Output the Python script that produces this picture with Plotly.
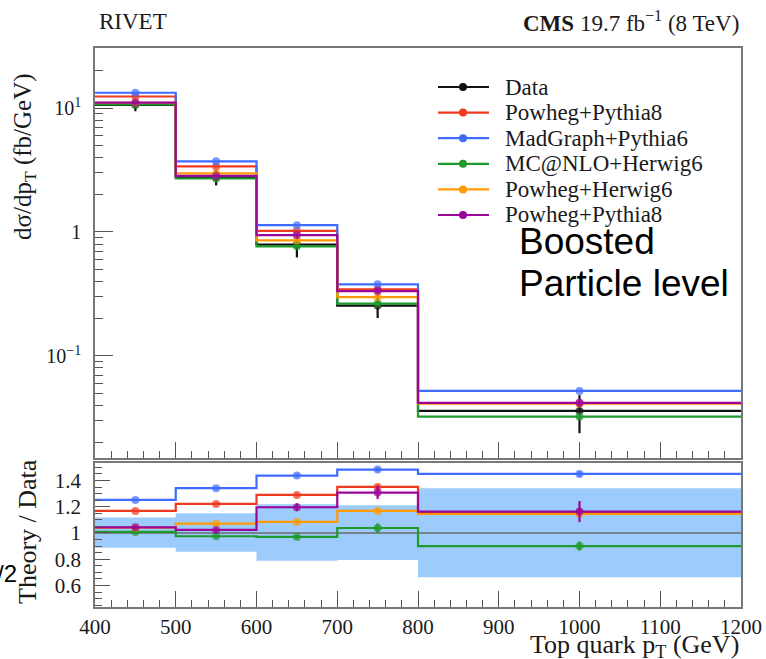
import plotly.graph_objects as go

# ---------------- data ----------------
bin_edges = [400, 500, 600, 700, 800, 1200]
bin_centers = [450, 550, 650, 750, 1000]

data_vals = [10.6, 2.77, 0.79, 0.255, 0.036]
data_unc_up = [0.117, 0.150, 0.219, 0.211, 0.341]     # relative
data_unc_dn = [0.112, 0.143, 0.211, 0.206, 0.338]     # relative

series_names = ["Powheg+Pythia8", "MadGraph+Pythia6", "MC@NLO+Herwig6",
                "Powheg+Herwig6", "Powheg+Pythia8"]
series_colors = ["#EE3A1E", "#3F6CFF", "#1F9A2C", "#FF9A05", "#9A059A"]

ratio_powheg_pythia8 = [1.168, 1.221, 1.290, 1.351, 1.155]
ratio_madgraph_pythia6 = [1.252, 1.341, 1.437, 1.483, 1.450]
ratio_mcatnlo_herwig6 = [1.008, 0.975, 0.970, 1.038, 0.900]
ratio_powheg_herwig6 = [1.040, 1.071, 1.084, 1.168, 1.145]
ratio_powheg_pythia8_b = [1.043, 1.023, 1.196, 1.308, 1.163]

rerr_powheg_pythia8 = [0.008, 0.010, 0.012, 0.020, 0.020]
rerr_madgraph_pythia6 = [0.008, 0.010, 0.012, 0.015, 0.020]
rerr_mcatnlo_herwig6 = [0.010, 0.012, 0.015, 0.035, 0.035]
rerr_powheg_herwig6 = [0.008, 0.010, 0.012, 0.015, 0.020]
rerr_powheg_pythia8_b = [0.012, 0.015, 0.030, 0.050, 0.080]

series_ratios = [ratio_powheg_pythia8, ratio_madgraph_pythia6, ratio_mcatnlo_herwig6,
                 ratio_powheg_herwig6, ratio_powheg_pythia8_b]
series_rerrs = [rerr_powheg_pythia8, rerr_madgraph_pythia6, rerr_mcatnlo_herwig6,
                rerr_powheg_herwig6, rerr_powheg_pythia8_b]

x_tick_vals = [400, 500, 600, 700, 800, 900, 1000, 1100, 1200]
y_main_tick_vals = [0.1, 1, 10]
y_main_tick_text = ["10<sup>−1</sup>", "1", "10<sup>1</sup>"]
y_ratio_tick_vals = [0.6, 0.8, 1.0, 1.2, 1.4]
y_ratio_tick_text = ["0.6", "0.8", "1", "1.2", "1.4"]

# ---------------- layout geometry (pixels) ----------------
W, H = 766, 659
L, R, T, B = 95, 741, 48, 607
MAIN_BOTTOM, RATIO_TOP = 458, 463


def px(x):
    return (x - L) / (R - L)


def py(y):
    return (B - y) / (B - T)


SERIF = "Liberation Serif"
SANS = "Liberation Sans"
TXT = "#1a1a1a"
AXC = "#777777"


def step_arrays(vals, errs_up=None, errs_dn=None):
    xs, ys, sz, eu, ed = [], [], [], [], []
    for i, v in enumerate(vals):
        xs += [bin_edges[i], bin_centers[i]]
        ys += [v, v]
        sz += [0, 8]
        eu += [0, errs_up[i] if errs_up else 0]
        ed += [0, errs_dn[i] if errs_dn else 0]
    xs.append(bin_edges[-1]); ys.append(vals[-1]); sz.append(0); eu.append(0); ed.append(0)
    return xs, ys, sz, eu, ed


fig = go.Figure()

# ---- ratio band (data uncertainty) ----
band_lo = [1 - d for d in data_unc_dn]
band_hi = [1 + u for u in data_unc_up]
fig.add_trace(go.Scatter(x=bin_edges, y=band_lo + [band_lo[-1]],
                         mode="lines", line=dict(width=0, shape="hv"),
                         xaxis="x2", yaxis="y2", showlegend=False, hoverinfo="skip"))
fig.add_trace(go.Scatter(x=bin_edges, y=band_hi + [band_hi[-1]],
                         mode="lines", line=dict(width=0, shape="hv"), fill="tonexty",
                         fillcolor="#9DCBFB",
                         xaxis="x2", yaxis="y2", showlegend=False, hoverinfo="skip"))

# ---- data ----
d_up = [v * u for v, u in zip(data_vals, data_unc_up)]
d_dn = [v * d for v, d in zip(data_vals, data_unc_dn)]
xs, ys, sz, eu, ed = step_arrays(data_vals, d_up, d_dn)
fig.add_trace(go.Scatter(x=xs, y=ys, mode="lines+markers", name="Data",
                         line=dict(color="#111111", width=2.2, shape="hv"),
                         marker=dict(size=sz, color="#111111", line=dict(width=0)),
                         error_y=dict(type="data", array=eu, arrayminus=ed, symmetric=False,
                                      color="#111111", thickness=2.2, width=0),
                         showlegend=False))
data_ratio = [v / v for v in data_vals]
xs, ys, sz, eu, ed = step_arrays(data_ratio)
fig.add_trace(go.Scatter(x=xs, y=ys, mode="lines", line=dict(color="#6a6a6a", width=1.5, shape="hv"),
                         xaxis="x2", yaxis="y2", showlegend=False))

# ---- MC series ----
for name, col, rat, rerr in zip(series_names, series_colors, series_ratios, series_rerrs):
    vals = [d * r for d, r in zip(data_vals, rat)]
    errs = [d * e for d, e in zip(data_vals, rerr)]
    xs, ys, sz, eu, ed = step_arrays(vals, errs, errs)
    fig.add_trace(go.Scatter(x=xs, y=ys, mode="lines+markers", name=name,
                             line=dict(color=col, width=2.2, shape="hv"),
                             marker=dict(size=sz, color=col, line=dict(width=0)),
                             error_y=dict(type="data", array=eu, arrayminus=ed, symmetric=False,
                                          color=col, thickness=2.2, width=0),
                             showlegend=False))
    xs, ys, sz, eu, ed = step_arrays(rat, rerr, rerr)
    fig.add_trace(go.Scatter(x=xs, y=ys, mode="lines+markers", name=name,
                             line=dict(color=col, width=2.2, shape="hv"),
                             marker=dict(size=sz, color=col, line=dict(width=0)),
                             error_y=dict(type="data", array=eu, arrayminus=ed, symmetric=False,
                                          color=col, thickness=2.2, width=0),
                             xaxis="x2", yaxis="y2", showlegend=False))

# ---------------- axes ----------------
common_x = dict(range=[400, 1200], showline=True, mirror=True, linecolor=AXC, linewidth=1.5,
                ticks="inside", ticklen=16, tickcolor="#555", tickwidth=1.2,
                tickvals=x_tick_vals, showgrid=False, zeroline=False, automargin=False,
                minor=dict(ticks="inside", ticklen=7, dtick=20, tick0=400, tickcolor="#555",
                           showgrid=False))
main_minor = [m * 10 ** e for e in (-2, -1, 0) for m in range(2, 10)] + [20]
main_minor = [v for v in main_minor if v > 0.015]

fig.update_layout(
    width=W, height=H, autosize=False,
    margin=dict(l=L, r=W - R, t=T, b=H - B, pad=0),
    paper_bgcolor="white", plot_bgcolor="white",
    showlegend=False,
    font=dict(family=SERIF, size=22, color=TXT),
    xaxis=dict(domain=[0, 1], anchor="y", showticklabels=False, **common_x),
    yaxis=dict(domain=[py(MAIN_BOTTOM), 1], type="log", range=[-1.823, 1.484],
               showline=True, mirror=True, linecolor=AXC, linewidth=1.5,
               ticks="inside", ticklen=18, tickcolor="#555", tickwidth=1.2,
               tickmode="array", tickvals=y_main_tick_vals, ticktext=y_main_tick_text,
               ticklabelstandoff=8, tickfont=dict(size=20), automargin=False,
               showgrid=False, zeroline=False,
               minor=dict(ticks="inside", ticklen=8, tickmode="array", tickvals=main_minor,
                          tickcolor="#555", showgrid=False)),
    xaxis2=dict(domain=[0, 1], anchor="y2", tickfont=dict(size=21), ticklabelstandoff=0,
                **common_x),
    yaxis2=dict(domain=[0, py(RATIO_TOP)], range=[0.436, 1.533],
                showline=True, mirror=True, linecolor=AXC, linewidth=1.5,
                ticks="inside", ticklen=15, tickcolor="#555", tickwidth=1.2,
                tickmode="array", tickvals=y_ratio_tick_vals, ticktext=y_ratio_tick_text,
                ticklabelstandoff=8, tickfont=dict(size=21), automargin=False,
                showgrid=False, zeroline=False,
                minor=dict(ticks="inside", ticklen=7, dtick=0.05, tick0=0.4,
                           tickcolor="#555", showgrid=False)),
)

# ---------------- texts ----------------
ann = []
ann.append(dict(text="RIVET", x=px(97), y=py(22), xanchor="left", yanchor="middle",
                font=dict(family=SERIF, size=23, color=TXT)))
ann.append(dict(text="<b>CMS</b> 19.7 fb<sup>−1</sup> (8 TeV)", x=px(741), y=py(22),
                xanchor="right", yanchor="middle", font=dict(family=SERIF, size=23, color=TXT)))
ann.append(dict(text="dσ/dp<sub>T</sub> (fb/GeV)", x=px(25), y=py(157), textangle=-90,
                xanchor="center", yanchor="middle", font=dict(family=SERIF, size=25, color=TXT)))
ann.append(dict(text="Theory / Data", x=px(27), y=py(532), textangle=-90,
                xanchor="center", yanchor="middle", font=dict(family=SERIF, size=26, color=TXT)))
ann.append(dict(text="Top quark p<sub>T</sub> (GeV)", x=px(741), y=py(646),
                xanchor="right", yanchor="middle", font=dict(family=SERIF, size=26, color=TXT)))
ann.append(dict(text="Boosted", x=px(517), y=py(241), xanchor="left", yanchor="middle",
                font=dict(family=SANS, size=37, color="black")))
ann.append(dict(text="Particle level", x=px(517), y=py(283), xanchor="left", yanchor="middle",
                font=dict(family=SANS, size=37, color="black")))
ann.append(dict(text="/2", x=px(19), y=py(573), xanchor="right", yanchor="middle",
                font=dict(family=SANS, size=24, color="black")))

# manual legend
legend_names = ["Data"] + series_names
legend_colors = ["#111111"] + series_colors
shapes = []
for i, (nm, col) in enumerate(zip(legend_names, legend_colors)):
    yy = 87 + i * 25.6
    shapes.append(dict(type="line", xref="paper", yref="paper", x0=px(438), x1=px(489),
                       y0=py(yy), y1=py(yy), line=dict(color=col, width=2.2)))
    shapes.append(dict(type="circle", xref="paper", yref="paper", x0=px(459), x1=px(467),
                       y0=py(yy + 4), y1=py(yy - 4), fillcolor=col, line=dict(width=0)))
    ann.append(dict(text=nm, x=px(503), y=py(yy), xanchor="left", yanchor="middle",
                    font=dict(family=SERIF, size=23, color=TXT)))

for a in ann:
    a.update(xref="paper", yref="paper", showarrow=False)
fig.update_layout(annotations=ann, shapes=shapes)

fig.write_html("out.html", config={"displayModeBar": False},
               post_script="document.body.style.margin='0';")
